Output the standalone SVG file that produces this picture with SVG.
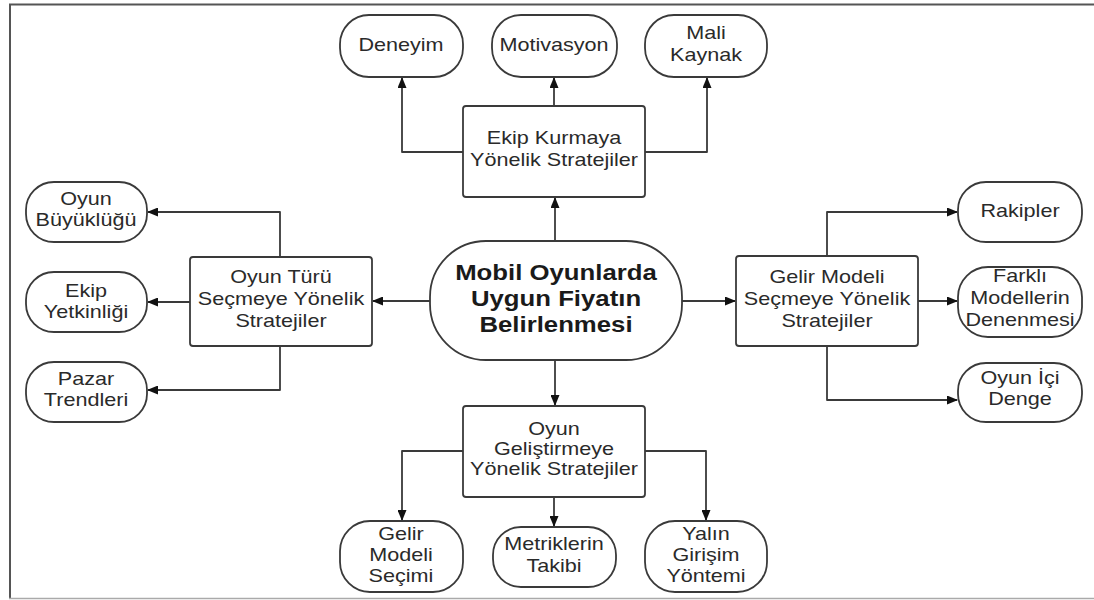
<svg xmlns="http://www.w3.org/2000/svg" width="1094" height="600" viewBox="0 0 1094 600">
<defs>
<style>
.node{fill:#fff;stroke:#3a3a3a;stroke-width:1.8}
.t{font-family:"Liberation Sans",Arial,sans-serif;font-size:18px;fill:#2a2a2a;text-anchor:middle}
.tb{font-family:"Liberation Sans",Arial,sans-serif;font-size:23px;font-weight:bold;fill:#1a1a1a;text-anchor:middle}
.c{fill:none;stroke:#3a3a3a;stroke-width:1.8;stroke-linejoin:round;marker-end:url(#ah)}
</style>
<marker id="ah" markerUnits="userSpaceOnUse" markerWidth="11" markerHeight="9" refX="10" refY="4.5" orient="auto">
<path d="M0,0 L11,4.5 L0,9 z" fill="#111"/>
</marker>
</defs>
<rect width="1094" height="600" fill="#fff"/>
<g id="frame" fill="none">
<line x1="9" y1="4.5" x2="1094" y2="4.5" stroke="#555" stroke-width="2.2"/>
<line x1="10" y1="4" x2="10" y2="599" stroke="#555" stroke-width="2"/>
<line x1="9" y1="598.5" x2="1094" y2="598.5" stroke="#aaa" stroke-width="1.5"/>
</g>
<g id="connectors">
<path class="c" d="M555,241 V198"/>
<path class="c" d="M463,152 H402 V78"/>
<path class="c" d="M554,106 V78"/>
<path class="c" d="M645,152 H707 V78"/>
<path class="c" d="M430,301 H373"/>
<path class="c" d="M280,257 V212 H148"/>
<path class="c" d="M190,302 H148"/>
<path class="c" d="M280,346 V390 H148"/>
<path class="c" d="M682,301 H735"/>
<path class="c" d="M827,256 V212 H957"/>
<path class="c" d="M918,301 H957"/>
<path class="c" d="M827,346 V400 H957"/>
<path class="c" d="M555,360 V405"/>
<path class="c" d="M463,451 H402 V520"/>
<path class="c" d="M554,497 V526"/>
<path class="c" d="M645,451 H706 V520"/>
</g>
<g id="center">
<rect class="node" x="430" y="241" width="252" height="119" rx="56" ry="56"/>
<text class="tb" transform="translate(556 0) scale(1.12 1)"><tspan x="0" y="280">Mobil Oyunlarda</tspan><tspan x="0" y="306">Uygun Fiyatın</tspan><tspan x="0" y="332">Belirlenmesi</tspan></text>
</g>
<g id="ekip-kurmaya">
<rect class="node" x="463" y="106" width="182" height="91" rx="3"/>
<text class="t" transform="translate(554 0) scale(1.2 1)"><tspan x="0" y="144">Ekip Kurmaya</tspan><tspan x="0" y="166">Yönelik Stratejiler</tspan></text>
</g>
<g id="deneyim">
<rect class="node" x="340" y="15" width="123" height="62" rx="29" ry="29"/>
<text class="t" transform="translate(401 0) scale(1.2 1)"><tspan x="0" y="51">Deneyim</tspan></text>
</g>
<g id="motivasyon">
<rect class="node" x="492" y="15" width="125" height="62" rx="29" ry="29"/>
<text class="t" transform="translate(554 0) scale(1.2 1)"><tspan x="0" y="51">Motivasyon</tspan></text>
</g>
<g id="mali-kaynak">
<rect class="node" x="645" y="15" width="122" height="62" rx="29" ry="29"/>
<text class="t" transform="translate(706 0) scale(1.2 1)"><tspan x="0" y="39">Mali</tspan><tspan x="0" y="61">Kaynak</tspan></text>
</g>
<g id="oyun-turu">
<rect class="node" x="190" y="257" width="182" height="89" rx="3"/>
<text class="t" transform="translate(281 0) scale(1.2 1)"><tspan x="0" y="283">Oyun Türü</tspan><tspan x="0" y="305">Seçmeye Yönelik</tspan><tspan x="0" y="327">Stratejiler</tspan></text>
</g>
<g id="oyun-buyuklugu">
<rect class="node" x="26" y="182" width="121" height="60" rx="28" ry="28"/>
<text class="t" transform="translate(86 0) scale(1.2 1)"><tspan x="0" y="205">Oyun</tspan><tspan x="0" y="226">Büyüklüğü</tspan></text>
</g>
<g id="ekip-yetkinligi">
<rect class="node" x="26" y="272" width="121" height="60" rx="28" ry="28"/>
<text class="t" transform="translate(86 0) scale(1.2 1)"><tspan x="0" y="297">Ekip</tspan><tspan x="0" y="318">Yetkinliği</tspan></text>
</g>
<g id="pazar-trendleri">
<rect class="node" x="26" y="362" width="121" height="60" rx="28" ry="28"/>
<text class="t" transform="translate(86 0) scale(1.2 1)"><tspan x="0" y="385">Pazar</tspan><tspan x="0" y="406">Trendleri</tspan></text>
</g>
<g id="gelir-modeli">
<rect class="node" x="736" y="256" width="182" height="90" rx="3"/>
<text class="t" transform="translate(827 0) scale(1.2 1)"><tspan x="0" y="283">Gelir Modeli</tspan><tspan x="0" y="305">Seçmeye Yönelik</tspan><tspan x="0" y="327">Stratejiler</tspan></text>
</g>
<g id="rakipler">
<rect class="node" x="958" y="182" width="124" height="60" rx="28" ry="28"/>
<text class="t" transform="translate(1020 0) scale(1.2 1)"><tspan x="0" y="217">Rakipler</tspan></text>
</g>
<g id="farkli-modeller">
<rect class="node" x="958" y="267" width="124" height="70" rx="30" ry="30"/>
<text class="t" transform="translate(1020 0) scale(1.2 1)"><tspan x="0" y="282">Farklı</tspan><tspan x="0" y="304">Modellerin</tspan><tspan x="0" y="326">Denenmesi</tspan></text>
</g>
<g id="oyun-ici-denge">
<rect class="node" x="958" y="363" width="124" height="59" rx="28" ry="28"/>
<text class="t" transform="translate(1020 0) scale(1.2 1)"><tspan x="0" y="384">Oyun İçi</tspan><tspan x="0" y="405">Denge</tspan></text>
</g>
<g id="oyun-gelistirmeye">
<rect class="node" x="463" y="406" width="182" height="91" rx="3"/>
<text class="t" transform="translate(554 0) scale(1.2 1)"><tspan x="0" y="435">Oyun</tspan><tspan x="0" y="455">Geliştirmeye</tspan><tspan x="0" y="475">Yönelik Stratejiler</tspan></text>
</g>
<g id="gelir-modeli-secimi">
<rect class="node" x="340" y="521" width="123" height="71" rx="30" ry="30"/>
<text class="t" transform="translate(401 0) scale(1.2 1)"><tspan x="0" y="540">Gelir</tspan><tspan x="0" y="561">Modeli</tspan><tspan x="0" y="582">Seçimi</tspan></text>
</g>
<g id="metriklerin-takibi">
<rect class="node" x="493" y="527" width="123" height="60" rx="28" ry="28"/>
<text class="t" transform="translate(554 0) scale(1.2 1)"><tspan x="0" y="550">Metriklerin</tspan><tspan x="0" y="572">Takibi</tspan></text>
</g>
<g id="yalin-girisim">
<rect class="node" x="645" y="521" width="122" height="71" rx="30" ry="30"/>
<text class="t" transform="translate(706 0) scale(1.2 1)"><tspan x="0" y="540">Yalın</tspan><tspan x="0" y="561">Girişim</tspan><tspan x="0" y="582">Yöntemi</tspan></text>
</g>
</svg>
